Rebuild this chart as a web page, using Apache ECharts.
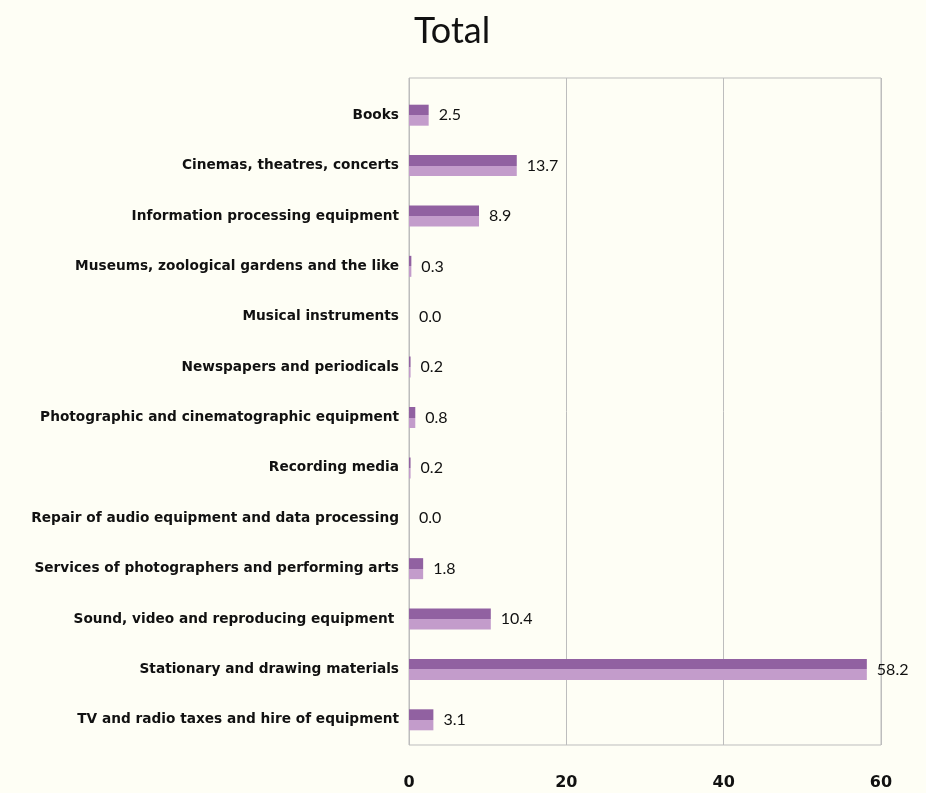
<!DOCTYPE html>
<html>
<head>
<meta charset="utf-8">
<script src="https://cdn.jsdelivr.net/npm/echarts@6/dist/echarts.min.js"></script>
<style>
  html, body { margin: 0; padding: 0; background: #fefef5; }
  #chart { width: 926px; height: 793px; }
</style>
</head>
<body>
<div id="chart"></div>
<script>
// categories, top to bottom
var categories = [
  'Books',
  'Cinemas, theatres, concerts',
  'Information processing equipment',
  'Museums, zoological gardens and the like',
  'Musical instruments',
  'Newspapers and periodicals',
  'Photographic and cinematographic equipment',
  'Recording media',
  'Repair of audio equipment and data processing',
  'Services of photographers and performing arts',
  'Sound, video and reproducing equipment ',
  'Stationary and drawing materials',
  'TV and radio taxes and hire of equipment'
];
var totals = [2.5, 13.7, 8.9, 0.3, 0.0, 0.2, 0.8, 0.2, 0.0, 1.8, 10.4, 58.2, 3.1];
var xTicks = [0, 20, 40, 60];

var font = 'Lato, "Open Sans", sans-serif';
var boldFont = '"DejaVu Sans", sans-serif';

var chart = echarts.init(document.getElementById('chart'));

var option = {
  backgroundColor: '#fefef5',
  animation: false,
  title: {
    text: 'Total',
    left: 409,
    top: 8,
    textStyle: { fontFamily: font, fontSize: 36, fontWeight: 'normal', color: '#111' }
  },
  grid: [
    // frame with vertical grid lines
    { left: 409, right: 45, top: 78, bottom: 48, show: true, borderColor: '#bdbdbd', borderWidth: 1, backgroundColor: 'transparent' },
    // bars
    { left: 409, right: 45, top: 90, bottom: 48 }
  ],
  xAxis: [
    {
      gridIndex: 0, type: 'value', min: xTicks[0], max: xTicks[xTicks.length - 1], interval: 20,
      axisLine: { show: false }, axisTick: { show: false },
      splitLine: { lineStyle: { color: '#bdbdbd', width: 1 } },
      axisLabel: { margin: 30, fontFamily: boldFont, fontWeight: 'bold', fontSize: 16, color: '#111' }
    },
    {
      gridIndex: 1, type: 'value', min: xTicks[0], max: xTicks[xTicks.length - 1],
      show: false
    }
  ],
  yAxis: [
    { gridIndex: 0, type: 'value', show: false },
    {
      gridIndex: 1, type: 'category', data: categories, inverse: true,
      axisLine: { show: false }, axisTick: { show: false }, splitLine: { show: false },
      axisLabel: { margin: 10, fontFamily: boldFont, fontWeight: 'bold', fontSize: 13.7, color: '#111' }
    }
  ],
  series: [{
    type: 'bar',
    xAxisIndex: 1,
    yAxisIndex: 1,
    data: totals,
    barWidth: 21,
    itemStyle: {
      color: new echarts.graphic.LinearGradient(0, 0, 0, 1, [
        { offset: 0, color: '#9161a1' },
        { offset: 0.5, color: '#9161a1' },
        { offset: 0.5, color: '#c39ccb' },
        { offset: 1, color: '#c39ccb' }
      ])
    },
    label: {
      show: true,
      position: 'right',
      distance: 10,
      fontFamily: font,
      fontSize: 16,
      color: '#111',
      formatter: function (p) { return p.value.toFixed(1); }
    }
  }]
};

chart.setOption(option);
</script>
</body>
</html>
